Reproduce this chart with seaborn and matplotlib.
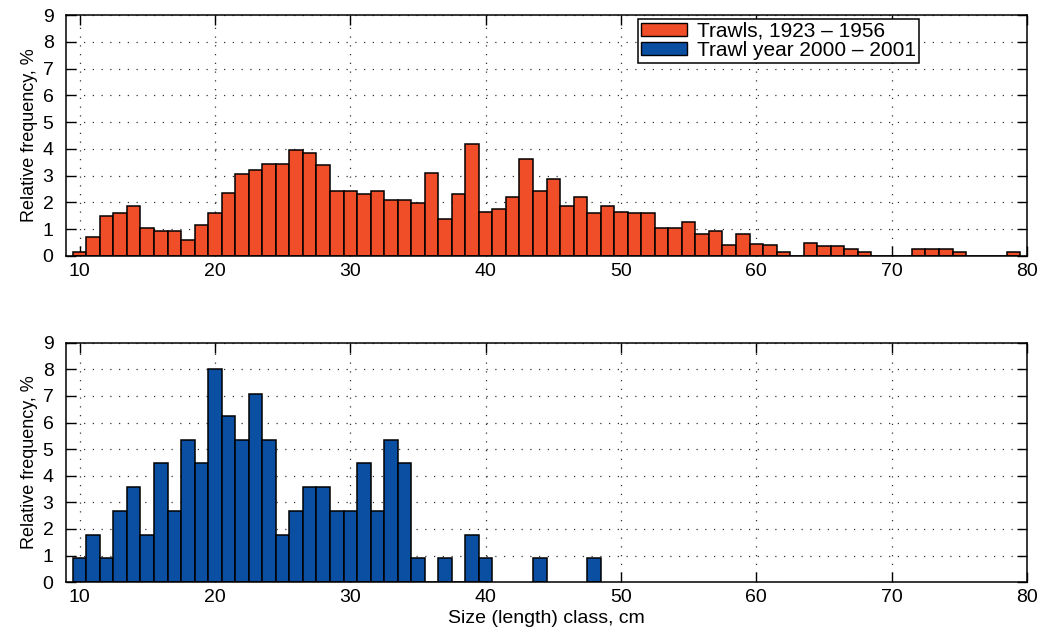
import numpy as np
import pandas as pd
import seaborn as sns
import matplotlib.pyplot as plt
from matplotlib.patches import Patch

# --- Dati ---
size_old = list(range(10, 80))
freq_old = [0.16, 0.71, 1.49, 1.60, 1.88, 1.03, 0.93, 0.93, 0.59, 1.14,
            1.61, 2.34, 3.06, 3.20, 3.43, 3.43, 3.96, 3.84, 3.41, 2.41,
            2.41, 2.30, 2.41, 2.08, 2.08, 1.96, 3.09, 1.36, 2.30, 4.19,
            1.64, 1.74, 2.19, 3.61, 2.44, 2.86, 1.86, 2.19, 1.59, 1.85,
            1.64, 1.59, 1.61, 1.04, 1.04, 1.25, 0.83, 0.94, 0.39, 0.83,
            0.45, 0.39, 0.14, 0.00, 0.49, 0.36, 0.36, 0.25, 0.14, 0.00,
            0.00, 0.00, 0.25, 0.25, 0.25, 0.14, 0.00, 0.00, 0.00, 0.14]

size_new = list(range(10, 41)) + [44, 48]
freq_new = [0.89, 1.79, 0.89, 2.68, 3.57, 1.79, 4.46, 2.68, 5.36, 4.46,
            8.00, 6.25, 5.36, 7.09, 5.36, 1.79, 2.68, 3.57, 3.57, 2.68,
            2.68, 4.46, 2.68, 5.36, 4.46, 0.89, 0.00, 0.89, 0.00, 1.79,
            0.89, 0.89, 0.89]

labels = ['Trawls, 1923 – 1956', 'Trawl year 2000 – 2001']
col_old = '#F04E29'
col_new = '#0B4FA2'

df_old = pd.DataFrame({'size': size_old, 'freq': freq_old})
df_new = pd.DataFrame({'size': size_new, 'freq': freq_new})

# --- Stile ---
sns.set_style("ticks")
plt.rcParams['font.family'] = ['Liberation Sans', 'DejaVu Sans']
plt.rcParams['font.size'] = 14
plt.rcParams['text.color'] = 'black'
plt.rcParams['axes.labelcolor'] = 'black'
plt.rcParams['xtick.color'] = 'black'
plt.rcParams['ytick.color'] = 'black'

fig = plt.figure(figsize=(10.4, 6.3), dpi=100)
ax1 = fig.add_axes([0.0635, 0.594, 0.924, 0.382])
ax2 = fig.add_axes([0.0635, 0.076, 0.924, 0.380])

for ax, df, col in [(ax1, df_old, col_old), (ax2, df_new, col_new)]:
    sns.barplot(data=df, x='size', y='freq', native_scale=True, width=1,
                color=col, saturation=1, edgecolor='black', linewidth=1.1,
                ax=ax, zorder=3)
    ax.set_xlim(9, 80)
    ax.set_ylim(0, 9)
    ax.set_xticks(range(10, 81, 10))
    ax.set_yticks(range(0, 10))
    ax.grid(True, color='#333333', linestyle=(0, (1, 6)), linewidth=0.9, zorder=0)
    ax.set_axisbelow(True)
    ax.tick_params(direction='in', length=7, width=1, top=True, right=True,
                   labelsize=14, color='black', labelcolor='black')
    ax.tick_params(axis='x', pad=5)
    ax.tick_params(axis='y', pad=9)
    for s in ax.spines.values():
        s.set_linewidth(1.1)
        s.set_color('black')
        s.set_zorder(5)
    ax.set_ylabel('Relative frequency, %', fontsize=13, labelpad=3)
    ax.set_xlabel('')

ax2.set_xlabel('Size (length) class, cm', fontsize=14, labelpad=3)

handles = [Patch(facecolor=col_old, edgecolor='black', linewidth=1),
           Patch(facecolor=col_new, edgecolor='black', linewidth=1)]
leg = ax1.legend(handles, labels, loc='upper left', bbox_to_anchor=(0.595, 0.985),
                 fontsize=15, frameon=True, fancybox=False, framealpha=1,
                 edgecolor='black', handlelength=2.2, handleheight=0.55,
                 borderpad=0.15, labelspacing=0.0, handletextpad=0.5,
                 borderaxespad=0)
leg.get_frame().set_linewidth(1.1)

plt.savefig('out.png', dpi=100)
plt.close()
